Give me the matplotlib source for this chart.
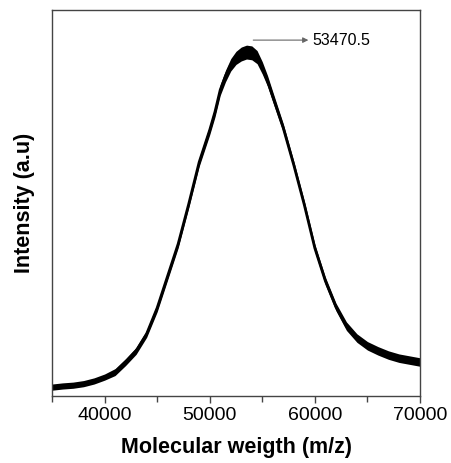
import numpy as np
import matplotlib
matplotlib.use('Agg')
import matplotlib.pyplot as plt

# molecular weight (m/z) sampled along the spectrum
mass = [35000, 36000, 37000, 38000, 39000, 40000, 41000, 42000, 43000,
        44000, 45000, 46000, 47000, 48000, 49000, 50000, 50500, 51000,
        51500, 52000, 52500, 53000, 53500, 54000, 54500, 55000, 55500,
        56000, 57000, 58000, 59000, 60000, 61000, 62000, 63000, 64000,
        65000, 66000, 67000, 68000, 69000, 70000]
# mean intensity (a.u.)
intensity = [0.023, 0.026, 0.028, 0.032, 0.039, 0.049, 0.062, 0.088, 0.117,
             0.161, 0.228, 0.311, 0.394, 0.497, 0.606, 0.689, 0.736, 0.793,
             0.829, 0.858, 0.876, 0.886, 0.891, 0.889, 0.878, 0.850, 0.816,
             0.775, 0.694, 0.598, 0.495, 0.383, 0.298, 0.231, 0.181, 0.150,
             0.130, 0.117, 0.106, 0.098, 0.093, 0.088]
# half width of the noise band around the trace
noise = [0.008, 0.008, 0.008, 0.008, 0.008, 0.008, 0.009, 0.009, 0.009,
         0.009, 0.010, 0.010, 0.010, 0.010, 0.011, 0.012, 0.013, 0.014,
         0.015, 0.016, 0.017, 0.018, 0.018, 0.018, 0.017, 0.016, 0.014,
         0.013, 0.011, 0.010, 0.010, 0.010, 0.010, 0.010, 0.011, 0.011,
         0.011, 0.011, 0.011, 0.011, 0.011, 0.011]

peak_mass = 53470.5
xticks = [40000, 50000, 60000, 70000]

plt.rcParams['font.family'] = ['Liberation Sans', 'DejaVu Sans']

fig = plt.figure(figsize=(4.51, 4.63), dpi=100)
ax = fig.add_axes([0.1153, 0.1447, 0.816, 0.8337])

m = np.array(mass)
y = np.array(intensity)
n = np.array(noise)
ax.fill_between(m, y - n, y + n, color='black', lw=0)
ax.plot(m, y, color='black', lw=2.0)

# peak marker
ax.annotate('', xy=(59380, 0.922), xytext=(54140, 0.922),
            arrowprops=dict(arrowstyle='-|>', color='#666666', lw=0.8,
                            mutation_scale=8, shrinkA=0, shrinkB=0))
ax.text(59760, 0.921, '%.1f' % peak_mass, fontsize=11.5, va='center', ha='left')

ax.set_xlim(35000, 70000)
ax.set_ylim(0, 1.0)
ax.set_xticks(xticks)
ax.set_xticks(range(35000, 70001, 5000), minor=True)
ax.set_yticks([])
ax.tick_params(axis='x', which='major', direction='out', length=5, width=1,
               labelsize=14, color='#444444', pad=3)
ax.tick_params(axis='x', which='minor', direction='out', length=4, width=1,
               color='#444444')
for s in ax.spines.values():
    s.set_color('#444444')
    s.set_linewidth(1)

ax.set_xlabel('Molecular weigth (m/z)', fontsize=15.5, fontweight='bold', labelpad=9)
ax.set_ylabel('Intensity (a.u)', fontsize=15.5, fontweight='bold', labelpad=12)

fig.savefig('out.png', dpi=100)
